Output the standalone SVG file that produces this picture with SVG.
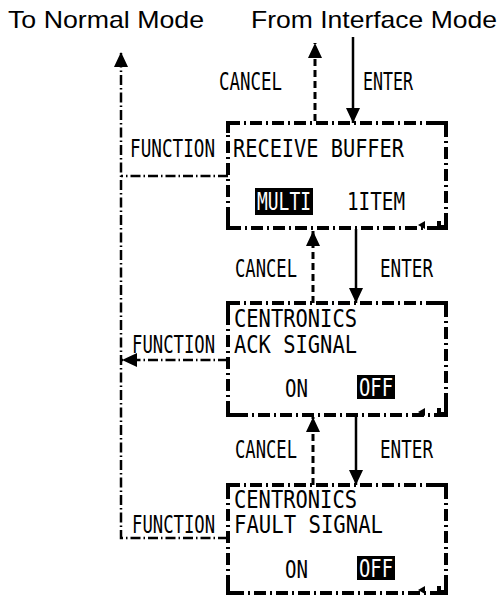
<svg xmlns="http://www.w3.org/2000/svg" width="500" height="602" viewBox="0 0 500 602">
<style>
.box{fill:none;stroke:#000;stroke-width:4;stroke-dasharray:12 4 2 4}
.corner{fill:none;stroke:#000;stroke-width:4}
.lcd{font-family:"DejaVu Sans Mono","Liberation Mono",monospace;font-size:24px;fill:#000}
.inv{fill:#fff}
.hl{fill:#000}
.title{font-family:"Liberation Sans",Arial,sans-serif;font-size:24px;fill:#000}
.dd{fill:none;stroke:#000;stroke-width:2.5;stroke-dasharray:10 3 1.5 3}
.dash{fill:none;stroke:#000;stroke-width:3;stroke-dasharray:7 4}
.solid{fill:none;stroke:#000;stroke-width:2.5}
.deco{fill:#000}
</style>
<defs>
<marker id="ah" viewBox="0 0 15 14" refX="15" refY="7" markerWidth="15" markerHeight="14" markerUnits="userSpaceOnUse" orient="auto">
<path d="M0,0 L15,7 L0,14 z" fill="#000"/>
</marker>
</defs>
<rect width="500" height="602" fill="#fff"/>

<text class="title" x="8" y="28" textLength="196" lengthAdjust="spacingAndGlyphs">To Normal Mode</text>
<text class="title" x="251" y="28" textLength="246" lengthAdjust="spacingAndGlyphs">From Interface Mode</text>

<g id="connectors">
<line class="solid" x1="353" y1="37" x2="353" y2="123" marker-end="url(#ah)"/>
<line class="dash" x1="315" y1="121" x2="315" y2="43" marker-end="url(#ah)"/>
<line class="solid" x1="356" y1="229" x2="356" y2="303" marker-end="url(#ah)"/>
<line class="dash" x1="313" y1="303" x2="313" y2="231" marker-end="url(#ah)"/>
<line class="solid" x1="356" y1="416" x2="356" y2="485" marker-end="url(#ah)"/>
<line class="dash" x1="313" y1="485" x2="313" y2="417" marker-end="url(#ah)"/>
<path class="dd" d="M228,538 H121 V52" marker-end="url(#ah)"/>
<path class="dd" d="M228,176 H121"/>
<path class="dd" d="M228,360 H122" marker-end="url(#ah)"/>
<text class="lcd" x="219" y="90" textLength="63" lengthAdjust="spacingAndGlyphs">CANCEL</text>
<text class="lcd" x="363" y="90" textLength="50" lengthAdjust="spacingAndGlyphs">ENTER</text>
<text class="lcd" x="235" y="277" textLength="62" lengthAdjust="spacingAndGlyphs">CANCEL</text>
<text class="lcd" x="380" y="277" textLength="53" lengthAdjust="spacingAndGlyphs">ENTER</text>
<text class="lcd" x="235" y="458" textLength="62" lengthAdjust="spacingAndGlyphs">CANCEL</text>
<text class="lcd" x="380" y="458" textLength="53" lengthAdjust="spacingAndGlyphs">ENTER</text>
<text class="lcd" x="130" y="157" textLength="85" lengthAdjust="spacingAndGlyphs">FUNCTION</text>
<text class="lcd" x="132" y="353" textLength="83" lengthAdjust="spacingAndGlyphs">FUNCTION</text>
<text class="lcd" x="132" y="533" textLength="83" lengthAdjust="spacingAndGlyphs">FUNCTION</text>
</g>

<g id="receive-buffer">
<rect class="box" x="228" y="123" width="218" height="105"/>
<path class="corner" d="M228,133 V123 H238 M436,123 H446 V133 M228,218 V228 H238 M446,218 V228 H436"/>
<path class="deco" d="M418,225 L425,221 L425,229 z"/>
<path class="corner" d="M439,221 V227 H445"/>
<text class="lcd" x="233" y="157" textLength="171" lengthAdjust="spacingAndGlyphs">RECEIVE BUFFER</text>
<rect class="hl" x="255" y="188" width="58" height="27"/>
<text class="lcd inv" x="257" y="210" textLength="54" lengthAdjust="spacingAndGlyphs">MULTI</text>
<text class="lcd" x="347" y="210" textLength="58" lengthAdjust="spacingAndGlyphs">1ITEM</text>
</g>

<g id="ack-signal">
<rect class="box" x="228" y="303" width="218" height="112"/>
<path class="corner" d="M228,313 V303 H238 M436,303 H446 V313 M228,405 V415 H238 M446,405 V415 H436"/>
<path class="deco" d="M418,412 L425,408 L425,416 z"/>
<path class="corner" d="M439,408 V414 H445"/>
<text class="lcd" x="234" y="327" textLength="123" lengthAdjust="spacingAndGlyphs">CENTRONICS</text>
<text class="lcd" x="234" y="353" textLength="123" lengthAdjust="spacingAndGlyphs">ACK SIGNAL</text>
<text class="lcd" x="285" y="397" textLength="23" lengthAdjust="spacingAndGlyphs">ON</text>
<rect class="hl" x="357" y="375" width="38" height="24"/>
<text class="lcd inv" x="359" y="396" textLength="34" lengthAdjust="spacingAndGlyphs">OFF</text>
</g>

<g id="fault-signal">
<rect class="box" x="228" y="485" width="218" height="108"/>
<path class="corner" d="M228,495 V485 H238 M436,485 H446 V495 M228,583 V593 H238 M446,583 V593 H436"/>
<path class="deco" d="M418,590 L425,586 L425,594 z"/>
<path class="corner" d="M439,586 V592 H445"/>
<text class="lcd" x="234" y="508" textLength="123" lengthAdjust="spacingAndGlyphs">CENTRONICS</text>
<text class="lcd" x="234" y="533" textLength="149" lengthAdjust="spacingAndGlyphs">FAULT SIGNAL</text>
<text class="lcd" x="285" y="578" textLength="23" lengthAdjust="spacingAndGlyphs">ON</text>
<rect class="hl" x="357" y="556" width="38" height="24"/>
<text class="lcd inv" x="359" y="577" textLength="34" lengthAdjust="spacingAndGlyphs">OFF</text>
</g>
</svg>
